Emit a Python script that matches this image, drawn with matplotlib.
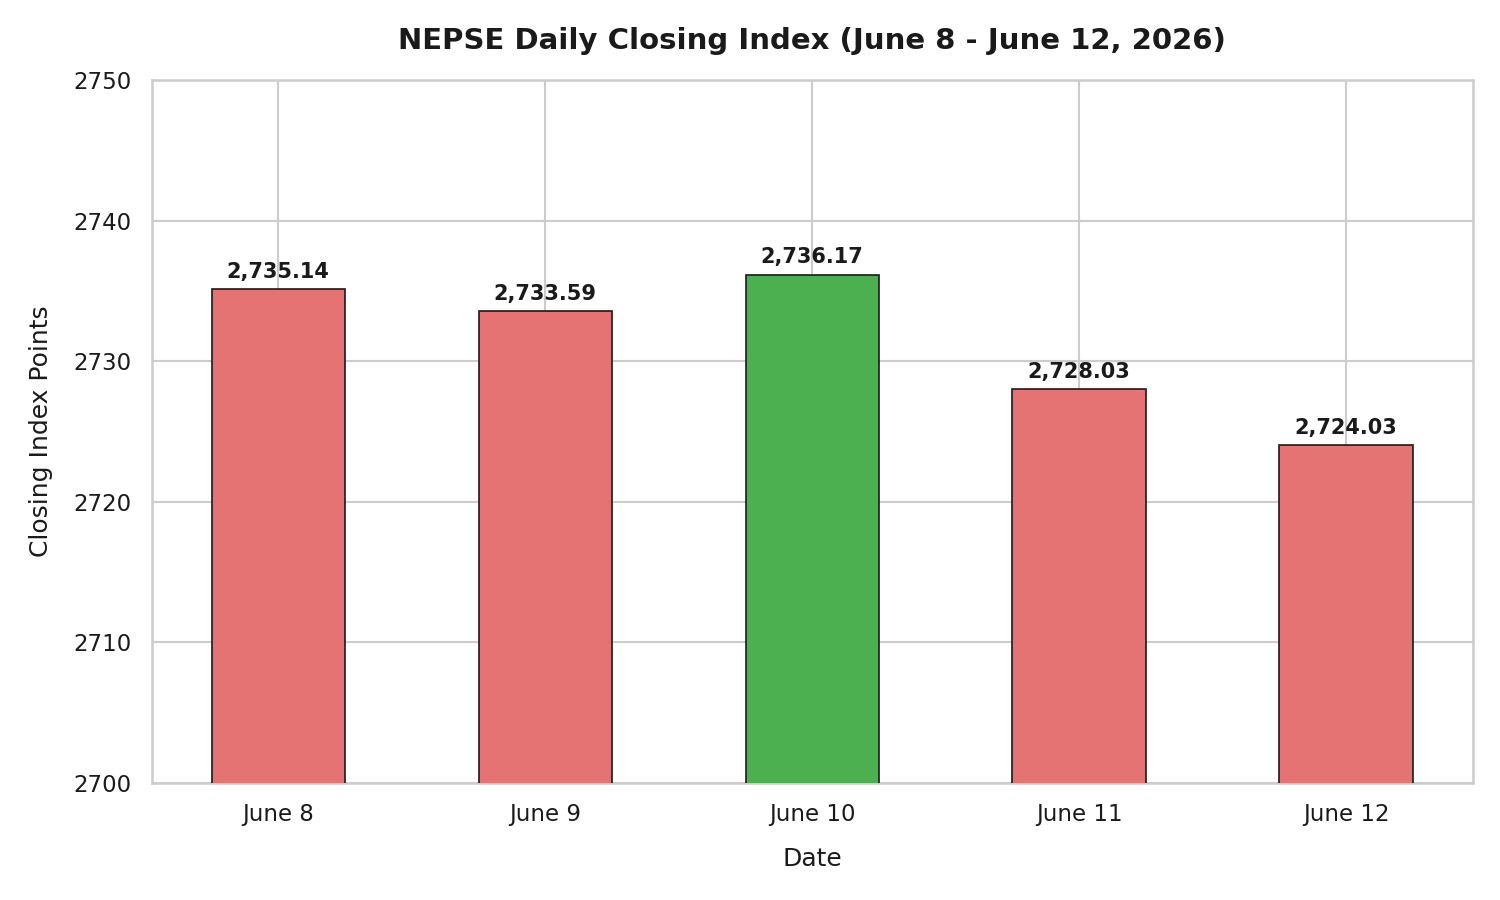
import matplotlib
matplotlib.use("Agg")
import matplotlib.pyplot as plt
import seaborn as sns

# ---- DATA ----
dates = ["June 8", "June 9", "June 10", "June 11", "June 12"]
closing = [2735.14, 2733.59, 2736.17, 2728.03, 2724.03]
bar_colors = ["#E57373", "#E57373", "#4CAF50", "#E57373", "#E57373"]

sns.set_theme(style="whitegrid")
plt.rcParams["font.family"] = ["DejaVu Sans"]

fig, ax = plt.subplots(figsize=(10, 6), dpi=150)

bars = ax.bar(dates, closing, color=bar_colors, edgecolor="#1a1a1a",
              linewidth=0.8, width=0.5, zorder=3)

for b, v in zip(bars, closing):
    ax.text(b.get_x() + b.get_width() / 2, v + 0.5, f"{v:,.2f}",
            ha="center", va="bottom", fontsize=10, fontweight="bold",
            color="#1a1a1a", zorder=4)

ax.set_ylim(2700, 2750)
ax.set_title("NEPSE Daily Closing Index (June 8 - June 12, 2026)",
             fontsize=14, fontweight="bold", pad=15, color="#1a1a1a")
ax.set_xlabel("Date", fontsize=12, labelpad=10, color="#1a1a1a")
ax.set_ylabel("Closing Index Points", fontsize=12, labelpad=10, color="#1a1a1a")
ax.tick_params(axis="both", labelsize=11, colors="#1a1a1a")

for s in ax.spines.values():
    s.set_color("#cccccc")
    s.set_linewidth(1.2)

fig.subplots_adjust(left=0.101, right=0.982, top=0.911, bottom=0.13)
fig.savefig("out.png", dpi=150)
